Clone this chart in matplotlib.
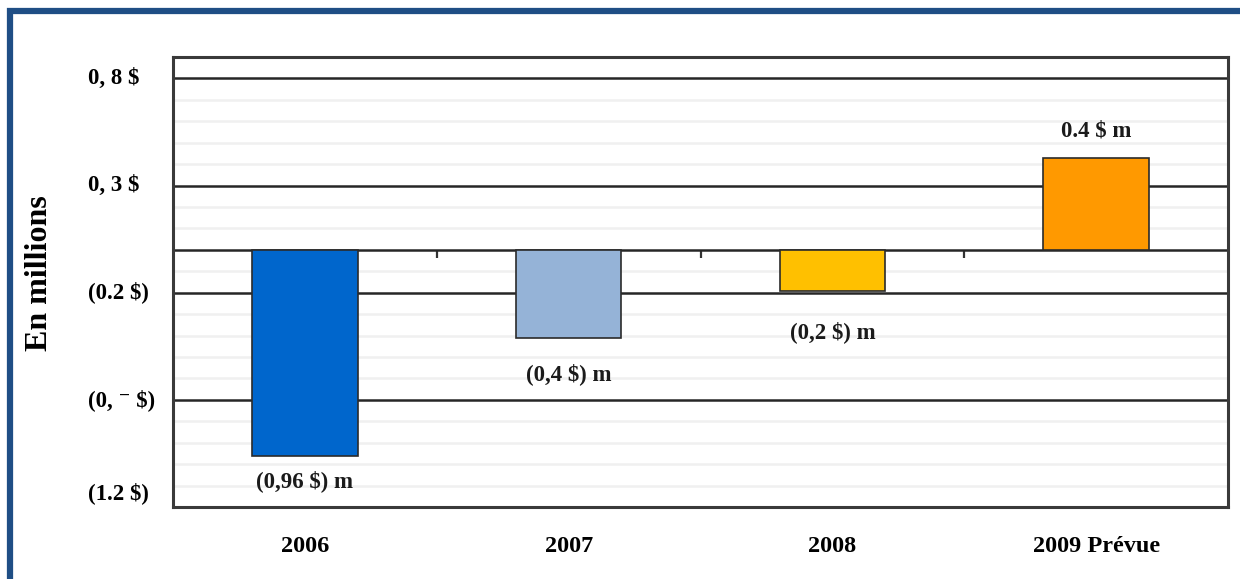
import matplotlib.pyplot as plt
from matplotlib.patches import Rectangle
from matplotlib.transforms import ScaledTranslation

# data (millions $)
categories = ['2006', '2007', '2008', '2009 Prévue']
values = [-0.96, -0.41, -0.19, 0.43]
value_labels = ['(0,96 $) m', '(0,4 $) m', '(0,2 $) m', '0.4 $ m']
bar_colors = ['#0066CC', '#95B3D7', '#FFC000', '#FF9900']
label_offsets = [18, 26, 30, 19]  # points away from bar end

ytick_vals = [0.8, 0.3, -0.2, -0.7, -1.2]
ytick_labels = ['0, 8 $', '0, 3 $', '(0.2 $)', '(0, \u207b $)', '(1.2 $)']
minor_vals = [round(-1.1 + 0.1 * k, 1) for k in range(19)]

plt.rcParams['font.family'] = ['Liberation Serif', 'DejaVu Serif']
plt.rcParams['font.weight'] = 'bold'

fig = plt.figure(figsize=(12.4, 5.79), dpi=100)
ax = fig.add_axes([173 / 1240, 72 / 579, 1055 / 1240, 450 / 579])

# outer dark blue frame (only top and left edges visible)
fig.patches.append(Rectangle((10 / 1240, -0.2), 1.3, 1.2 - 10.5 / 579,
                             transform=fig.transFigure, fill=False,
                             edgecolor='#1F4E85', linewidth=4.5, zorder=0))

x = list(range(len(categories)))

for v in minor_vals:
    if v not in ytick_vals and v != 0:
        ax.axhline(v, color='#F0F0F0', linewidth=1.8, zorder=1)
for v in ytick_vals:
    ax.axhline(v, color='#262626', linewidth=1.8, zorder=1)
ax.axhline(0, color='#262626', linewidth=1.8, zorder=1)

bars = ax.bar(x, values, width=0.4, color=bar_colors,
              edgecolor='#2b2b2b', linewidth=1.2, zorder=3)

for b, v, lab, off in zip(bars, values, value_labels, label_offsets):
    cx = b.get_x() + b.get_width() / 2
    ax.annotate(lab, (cx, v), xytext=(0, off if v > 0 else -off),
                textcoords='offset points', ha='center', va='center',
                fontsize=16.5, fontweight='bold', color='#1a1a1a', zorder=4)

ax.set_xlim(-0.5, 3.5)
ax.set_ylim(-1.2, 0.9)

ax.set_xticks(x)
ax.set_xticklabels(categories, fontsize=17.5, fontweight='bold')
ax.tick_params(axis='x', length=0, pad=21)

ax.set_yticks(ytick_vals)
ax.set_yticklabels(ytick_labels, fontsize=16.5, fontweight='bold', ha='left')
ax.tick_params(axis='y', length=0, pad=61)
# lowest label sits a bit above its line in the reference
low = ax.get_yticklabels()[-1]
low.set_transform(low.get_transform() + ScaledTranslation(0, 12 / 72, fig.dpi_scale_trans))
for lab in ax.get_yticklabels()[:-1]:
    lab.set_transform(lab.get_transform() + ScaledTranslation(0, 2 / 72, fig.dpi_scale_trans))

# category separators on the zero line
sec = ax.secondary_xaxis(0, transform=ax.transData)
sec.set_xticks([0.5, 1.5, 2.5])
sec.set_xticklabels([])
sec.tick_params(direction='out', length=6, width=1.6, color='#333333')
sec.spines['bottom'].set_visible(False)

ax.set_ylabel('En millions', fontsize=23, fontweight='bold')
ax.yaxis.set_label_coords(-0.113, 0.52)

for s in ax.spines.values():
    s.set_color('#3a3a3a')
    s.set_linewidth(2.2)
    s.set_zorder(5)

fig.savefig('out.png', dpi=100)
